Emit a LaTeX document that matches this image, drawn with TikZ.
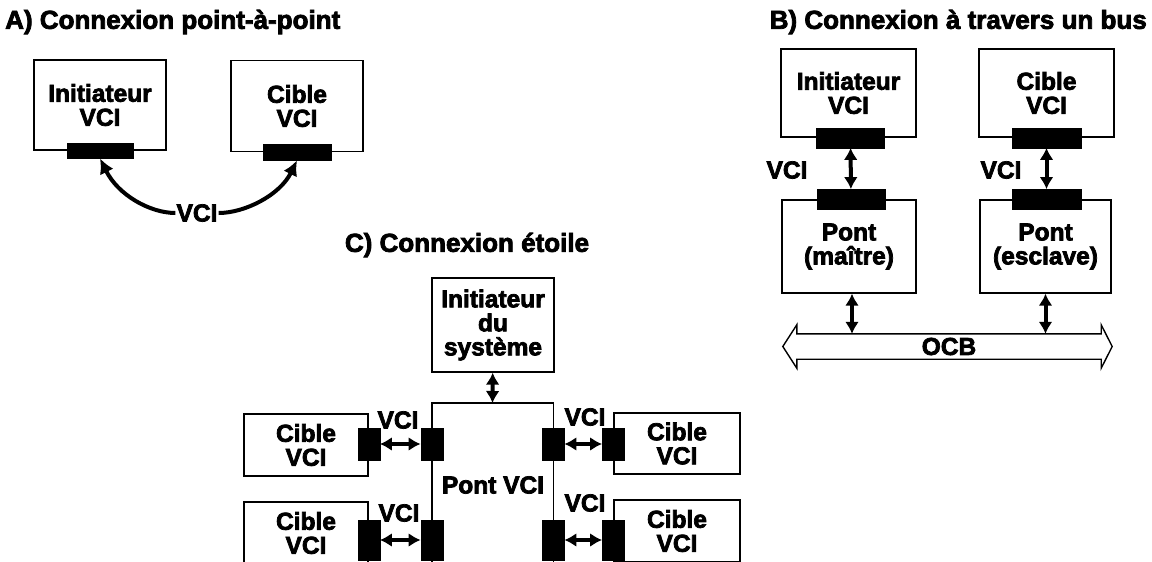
\documentclass[tikz,border=0pt]{standalone}
\usepackage{fontspec}
\setmainfont{Liberation Sans}[BoldFeatures={FakeBold=3}]
\usetikzlibrary{arrows.meta, calc}

\begin{document}
\begin{tikzpicture}[x=1pt, y=-1pt,
  every node/.style={font={\bfseries\fontsize{24.5}{24}\selectfont}},
  title/.style={font={\bfseries\fontsize{26}{26}\selectfont}, inner sep=0pt},
  box/.style={rectangle, draw, line width=1.4pt, align=center, inner sep=0pt},
  port/.style={rectangle, fill=black, draw=black, inner sep=0pt},
  lbl/.style={inner sep=1pt},
  arrow/.style={line width=4pt, {Latex[length=12pt, width=14pt]}-{Latex[length=12pt, width=14pt]}},
  onearrow/.style={line width=4pt, {Latex[length=15pt, width=15pt]}-}]

\useasboundingbox (0,0) rectangle (1152,562);
\clip (0,0) rectangle (1152,562);

% A) point-a-point
\node[title, anchor=west] (titleA) at (5,22) {A) Connexion point-à-point};
\node[box, minimum width=132, minimum height=90] (initA) at (100,105) {Initiateur\\VCI};
\node[box, minimum width=132, minimum height=91] (cibA) at (297,106) {Cible\\VCI};
\node[port, minimum width=66, minimum height=15] (portIA) at (initA.south) {};
\node[port, minimum width=68, minimum height=16] (portCA) at (cibA.south) {};
\node[lbl] (vciA) at (197,213) {VCI};

\draw[onearrow] (portIA.south) .. controls (118,195) and (150,213) .. (vciA.west);
\draw[onearrow] (portCA.south) .. controls (280,195) and (245,213) .. (vciA.east);

% B) bus
\node[title, anchor=east] (titleB) at (1147,22) {B) Connexion à travers un bus};
\node[box, minimum width=135, minimum height=88] (initB) at (848.5,93) {Initiateur\\VCI};
\node[box, minimum width=135, minimum height=88] (cibB) at (1046.5,93) {Cible\\VCI};
\node[box, minimum width=134, minimum height=93] (pontM) at (849,246.5) {Pont\\(maître)};
\node[box, minimum width=131, minimum height=93] (pontE) at (1045.5,246.5) {Pont\\(esclave)};
\node[port, minimum width=68, minimum height=20] (portIB) at ([xshift=2pt]initB.south) {};
\node[port, minimum width=69, minimum height=20] (portCB) at (cibB.south) {};
\node[port, minimum width=68, minimum height=20] (portPM) at ([xshift=2pt]pontM.north) {};
\node[port, minimum width=69, minimum height=20] (portPE) at ([xshift=1pt]pontE.north) {};
\node[lbl] (vciB1) at (787,170) {VCI};
\node[lbl] (vciB2) at (1001,170) {VCI};
\node[minimum width=304, minimum height=25, inner sep=0pt] (bus) at (949,346.5) {OCB};

\draw[arrow] (portIB) -- (portPM);
\draw[arrow] (portCB) -- (portPE);
\draw[arrow] ([xshift=3pt]pontM.south) -- ([xshift=3pt]pontM.south |- bus.north);
\draw[arrow] (pontE.south) -- (pontE.south |- bus.north);
\draw[line width=1.4pt, line join=miter] (bus.north west) -- (bus.north east)
  -- ($(bus.north east)+(0,-9)$) -- ($(bus.east)+(11,0)$) -- ($(bus.south east)+(0,9)$)
  -- (bus.south east) -- (bus.south west) -- ($(bus.south west)+(0,9)$)
  -- ($(bus.west)+(-14,0)$) -- ($(bus.north west)+(0,-9)$) -- cycle;

% C) etoile
\node[title] (titleC) at (467,245) {C) Connexion étoile};
\node[box, minimum width=122, minimum height=94] (initC) at (493,325) {Initiateur\\du\\système};
\node[inner sep=0pt, minimum width=121, minimum height=180, anchor=north] (pontC) at (492.5,403) {};
\node[lbl] (pontTxt) at (493,485) {Pont VCI};
\draw[line width=1.4pt] (pontC.south west) -- (pontC.north west) -- (pontC.north east) -- (pontC.south east);

\node[box, minimum width=124, minimum height=62] (cibTL) at (306,445) {Cible\\VCI};
\node[box, minimum width=124, minimum height=62] (cibBL) at (306,533) {Cible\\VCI};
\node[box, minimum width=126, minimum height=61] (cibTR) at (677,443.5) {Cible\\VCI};
\node[box, minimum width=126, minimum height=62] (cibBR) at (677,531) {Cible\\VCI};

\node[port, minimum width=22, minimum height=32] (pTL) at (cibTL.east |- 0,444) {};
\node[port, minimum width=22, minimum height=40] (pBL) at (cibBL.east |- 0,540) {};
\node[port, minimum width=22, minimum height=32] (pTR) at (cibTR.west |- 0,444) {};
\node[port, minimum width=22, minimum height=40] (pBR) at (cibBR.west |- 0,540) {};
\node[port, minimum width=22, minimum height=32] (qTL) at (pontC.west |- pTL) {};
\node[port, minimum width=22, minimum height=40] (qBL) at (pontC.west |- pBL) {};
\node[port, minimum width=22, minimum height=32] (qTR) at (pontC.east |- pTR) {};
\node[port, minimum width=22, minimum height=40] (qBR) at (pontC.east |- pBR) {};

\node[lbl] (vciC1) at (398,420) {VCI};
\node[lbl] (vciC2) at (585,417) {VCI};
\node[lbl] (vciC3) at (399,513) {VCI};
\node[lbl] (vciC4) at (585,503) {VCI};

\draw[arrow] (initC) -- (pontC.north);
\draw[arrow] (pTL) -- (qTL);
\draw[arrow] (pBL) -- (qBL);
\draw[arrow] (pTR) -- (qTR);
\draw[arrow] (pBR) -- (qBR);

\end{tikzpicture}
\end{document}
